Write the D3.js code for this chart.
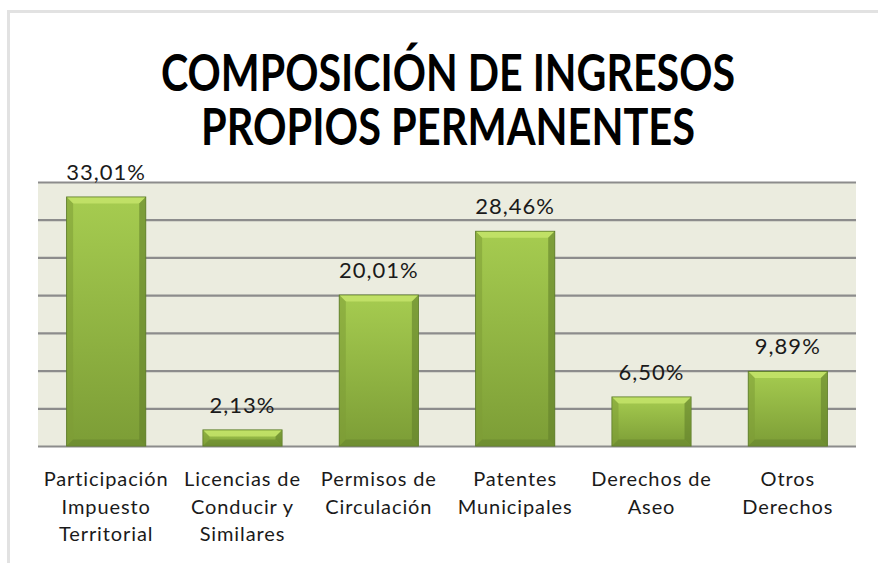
<!DOCTYPE html>
<html>
<head>
<meta charset="utf-8">
<script src="https://cdn.jsdelivr.net/npm/d3@7"></script>
<style>
  body { margin: 0; background: #fff; }
  svg { display: block; }
</style>
</head>
<body>
<div id="chart"></div>
<script>
// data
const categories = [
  ["Participación", "Impuesto", "Territorial"],
  ["Licencias de", "Conducir y", "Similares"],
  ["Permisos de", "Circulación"],
  ["Patentes", "Municipales"],
  ["Derechos de", "Aseo"],
  ["Otros", "Derechos"]
];
const values = [33.01, 2.13, 20.01, 28.46, 6.50, 9.89];
const valueLabels = ["33,01%", "2,13%", "20,01%", "28,46%", "6,50%", "9,89%"];
const yTicks = [0, 5, 10, 15, 20, 25, 30, 35];
const titleLines = ["COMPOSICIÓN DE INGRESOS", "PROPIOS PERMANENTES"];

const width = 878;
const height = 563;
const margin = {top: 182, left: 38, right: 22, bottom: 117};

const svg = d3.select("#chart")
  .append("svg")
    .attr("width", width)
    .attr("height", height);

const defs = svg.append("defs");
const grad = defs.append("linearGradient")
  .attr("id", "barGrad")
  .attr("x1", 0).attr("y1", 0).attr("x2", 0).attr("y2", 1);
grad.append("stop").attr("offset", "0%").attr("stop-color", "#a6cc50");
grad.append("stop").attr("offset", "100%").attr("stop-color", "#7c9d36");

// outer frame
svg.append("rect")
  .attr("x", 8.5).attr("y", 11.5)
  .attr("width", 900).attr("height", 600)
  .attr("fill", "none")
  .attr("stroke", "#e2e2e2")
  .attr("stroke-width", 3);

// title (one text, two lines)
svg.append("text")
  .attr("class", "title")
  .attr("x", 448)
  .attr("y", 91)
  .attr("text-anchor", "middle")
  .style("font-family", "Lato, 'Open Sans', sans-serif")
  .style("font-weight", "bold")
  .style("font-size", "51px")
  .style("fill", "#000")
  .selectAll("tspan")
  .data(titleLines)
  .join("tspan")
    .attr("x", 448)
    .attr("dy", (d, i) => i === 0 ? 0 : 54)
    .attr("textLength", (d, i) => i === 0 ? 574 : 494)
    .attr("lengthAdjust", "spacingAndGlyphs")
    .text(d => d);

const x = d3.scaleBand()
  .domain(d3.range(categories.length))
  .range([margin.left, width - margin.right])
  .paddingInner(0.42)
  .paddingOuter(0.21);

const y = d3.scaleLinear()
  .domain([0, 35])
  .range([height - margin.bottom, margin.top]);

// plot background
svg.append("rect")
  .attr("x", margin.left)
  .attr("y", margin.top)
  .attr("width", width - margin.right - margin.left)
  .attr("height", y(0) - margin.top)
  .attr("fill", "#ebecdf");

// gridlines
svg.append("g")
  .attr("transform", `translate(${margin.left},0)`)
  .call(d3.axisLeft(y).tickValues(yTicks).tickSize(-(width - margin.right - margin.left)).tickFormat(""))
  .call(g => g.select(".domain").remove())
  .call(g => g.selectAll(".tick line").attr("stroke", "#8c8c8c").attr("stroke-width", 2.2));

// bars with bevel
const bars = svg.append("g").selectAll("g")
  .data(values)
  .join("g");

bars.append("rect")
  .attr("x", (d, i) => x(i))
  .attr("y", d => y(d))
  .attr("width", x.bandwidth())
  .attr("height", d => y(0) - y(d))
  .attr("fill", "url(#barGrad)")
  .attr("stroke", "#5e7d2a")
  .attr("stroke-width", 1);

const bev = 6;
// top bevel (light)
bars.append("polygon")
  .attr("points", (d, i) => {
    const x0 = x(i) + 0.5, x1 = x(i) + x.bandwidth() - 0.5, t = y(d) + 0.5;
    const b = Math.min(bev, (y(0) - y(d)) / 2);
    return [[x0, t], [x1, t], [x1 - b, t + b], [x0 + b, t + b]].join(" ");
  })
  .attr("fill", "#c4e46a")
  .attr("opacity", 0.85);
// left bevel
bars.append("polygon")
  .attr("points", (d, i) => {
    const x0 = x(i) + 0.5, t = y(d) + 0.5, bt = y(0) - 0.5;
    const b = Math.min(bev, (y(0) - y(d)) / 2);
    return [[x0, t], [x0 + b, t + b], [x0 + b, bt - b], [x0, bt]].join(" ");
  })
  .attr("fill", "#7d9c37")
  .attr("opacity", 0.55);
// right bevel
bars.append("polygon")
  .attr("points", (d, i) => {
    const x1 = x(i) + x.bandwidth() - 0.5, t = y(d) + 0.5, bt = y(0) - 0.5;
    const b = Math.min(bev, (y(0) - y(d)) / 2);
    return [[x1, t], [x1 - b, t + b], [x1 - b, bt - b], [x1, bt]].join(" ");
  })
  .attr("fill", "#62812b")
  .attr("opacity", 0.6);
// bottom bevel
bars.append("polygon")
  .attr("points", (d, i) => {
    const x0 = x(i) + 0.5, x1 = x(i) + x.bandwidth() - 0.5, bt = y(0) - 0.5;
    const b = Math.min(bev, (y(0) - y(d)) / 2);
    return [[x0, bt], [x1, bt], [x1 - b, bt - b], [x0 + b, bt - b]].join(" ");
  })
  .attr("fill", "#67862f")
  .attr("opacity", 0.6);

// value labels
svg.append("g").selectAll("text")
  .data(values)
  .join("text")
    .attr("x", (d, i) => x(i) + x.bandwidth() / 2)
    .attr("y", d => y(d) - 17)
    .attr("text-anchor", "middle")
    .style("font-family", "Lato, 'Open Sans', sans-serif")
    .style("font-size", "22px")
    .style("letter-spacing", "1px")
    .style("fill", "#1a1a1a")
    .text((d, i) => valueLabels[i]);

// category labels
const cat = svg.append("g").selectAll("text")
  .data(categories)
  .join("text")
    .attr("x", (d, i) => x(i) + x.bandwidth() / 2)
    .attr("y", 486)
    .attr("text-anchor", "middle")
    .style("font-family", "Lato, 'Open Sans', sans-serif")
    .style("font-size", "20px")
    .style("letter-spacing", "0.9px")
    .style("fill", "#1a1a1a");

cat.selectAll("tspan")
  .data(d => d)
  .join("tspan")
    .attr("x", function() { return d3.select(this.parentNode).attr("x"); })
    .attr("dy", (d, i) => i === 0 ? 0 : 27.5)
    .text(d => d);
</script>
</body>
</html>
